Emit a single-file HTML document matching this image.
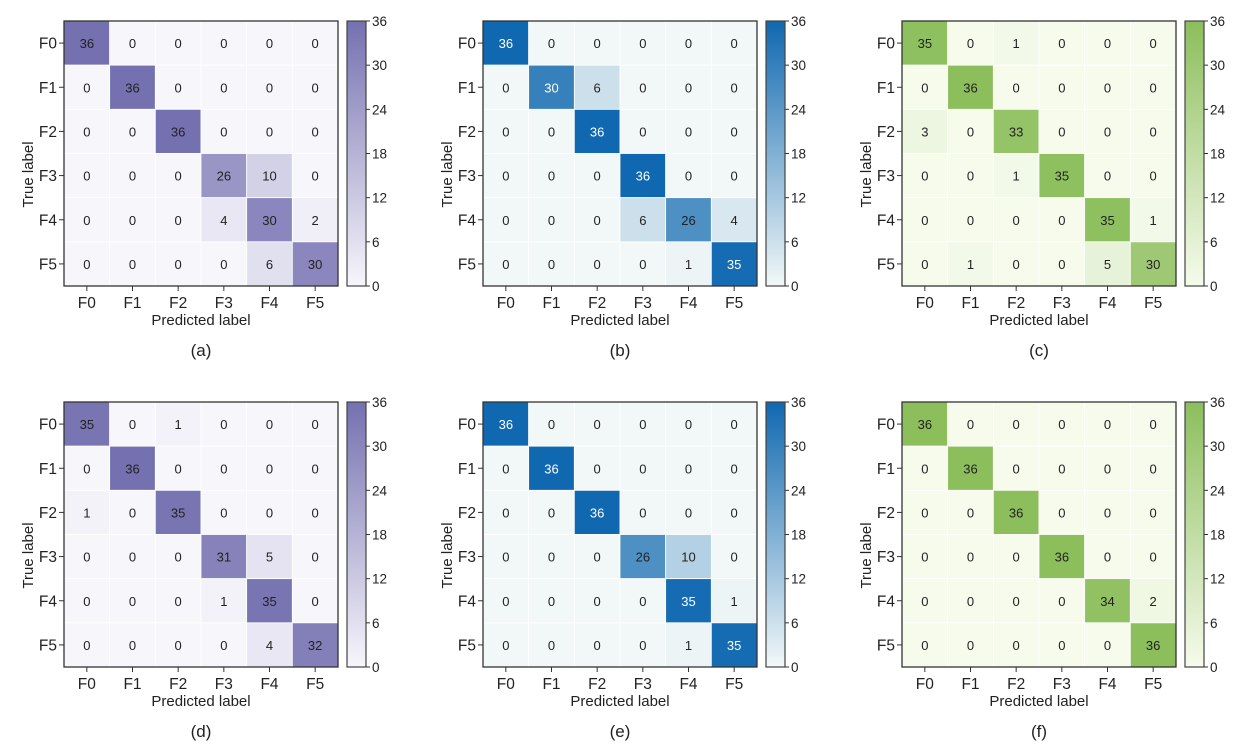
<!DOCTYPE html>
<html><head><meta charset="utf-8"><style>
html,body{margin:0;padding:0;background:#fff;}
svg text{font-family:"Liberation Sans",Arial,sans-serif;}
</style></head><body>
<svg id="s" width="1250" height="748" xmlns="http://www.w3.org/2000/svg"></svg>
<script>
const S=document.getElementById('s');
let h='<rect width="1250" height="748" fill="#fff"/>';
const cmaps={
 p:{lo:[247,246,251],hi:[117,112,176]},
 b:{lo:[242,248,248],hi:[16,104,176]},
 g:{lo:[246,251,236],hi:[140,190,92]}
};
function col(m,v){const c=cmaps[m],t=v/36;return 'rgb('+c.lo.map((l,i)=>Math.round(l+(c.hi[i]-l)*t)).join(',')+')';}
const data={
a:[[36,0,0,0,0,0],[0,36,0,0,0,0],[0,0,36,0,0,0],[0,0,0,26,10,0],[0,0,0,4,30,2],[0,0,0,0,6,30]],
b:[[36,0,0,0,0,0],[0,30,6,0,0,0],[0,0,36,0,0,0],[0,0,0,36,0,0],[0,0,0,6,26,4],[0,0,0,0,1,35]],
c:[[35,0,1,0,0,0],[0,36,0,0,0,0],[3,0,33,0,0,0],[0,0,1,35,0,0],[0,0,0,0,35,1],[0,1,0,0,5,30]],
d:[[35,0,1,0,0,0],[0,36,0,0,0,0],[1,0,35,0,0,0],[0,0,0,31,5,0],[0,0,0,1,35,0],[0,0,0,0,4,32]],
e:[[36,0,0,0,0,0],[0,36,0,0,0,0],[0,0,36,0,0,0],[0,0,0,26,10,0],[0,0,0,0,35,1],[0,0,0,0,1,35]],
f:[[36,0,0,0,0,0],[0,36,0,0,0,0],[0,0,36,0,0,0],[0,0,0,36,0,0],[0,0,0,0,34,2],[0,0,0,0,0,36]]
};
const panels=[['a',64,21,'p'],['b',483,21,'b'],['c',902,21,'g'],['d',64,402,'p'],['e',483,402,'b'],['f',902,402,'g']];
const W=274,H=265,cw=W/6,ch=H/6;
panels.forEach(([k,x,y,m],pi)=>{
 const M=data[k];
 h+=`<defs><linearGradient id="g${pi}" x1="0" y1="1" x2="0" y2="0"><stop offset="0" stop-color="${col(m,0)}"/><stop offset="1" stop-color="${col(m,36)}"/></linearGradient></defs>`;
 for(let r=0;r<6;r++)for(let c=0;c<6;c++){
  const v=M[r][c];
  h+=`<rect x="${x+c*cw}" y="${y+r*ch}" width="${cw}" height="${ch}" fill="${col(m,v)}" stroke="#fff" stroke-width="0.8"/>`;
  const white=(m==='b'&&v>=28);
  h+=`<text x="${x+c*cw+cw/2}" y="${y+r*ch+ch/2+5}" font-size="13" text-anchor="middle" fill="${white?'#fff':'#222'}">${v}</text>`;
 }
 h+=`<rect x="${x}" y="${y}" width="${W}" height="${H}" fill="none" stroke="#333" stroke-width="1.3"/>`;
 for(let i=0;i<6;i++){
  const cy=y+i*ch+ch/2, cx=x+i*cw+cw/2;
  h+=`<line x1="${x-5}" y1="${cy}" x2="${x}" y2="${cy}" stroke="#333"/>`;
  h+=`<text x="${x-7}" y="${cy+5.5}" font-size="15.5" text-anchor="end" fill="#222">F${i}</text>`;
  h+=`<line x1="${cx}" y1="${y+H}" x2="${cx}" y2="${y+H+5}" stroke="#333"/>`;
  h+=`<text x="${cx}" y="${y+H+22}" font-size="15.5" text-anchor="middle" fill="#222">F${i}</text>`;
 }
 h+=`<text x="${x+W/2}" y="${y+H+39}" font-size="15" text-anchor="middle" fill="#222">Predicted label</text>`;
 h+=`<text transform="translate(${x-31},${y+H/2+21}) rotate(-90)" font-size="15" text-anchor="middle" fill="#222">True label</text>`;
 const bx=x+283,bw=19;
 h+=`<rect x="${bx}" y="${y}" width="${bw}" height="${H}" fill="url(#g${pi})" stroke="#444" stroke-width="1.2"/>`;
 for(let t=0;t<=36;t+=6){
  const ty=y+H-t/36*H;
  h+=`<line x1="${bx+bw}" y1="${ty}" x2="${bx+bw+4}" y2="${ty}" stroke="#333"/>`;
  h+=`<text x="${bx+bw+6}" y="${ty+5}" font-size="13.5" fill="#222">${t}</text>`;
 }
 h+=`<text x="${x+W/2}" y="${y+H+70}" font-size="17" text-anchor="middle" fill="#222">(${k})</text>`;
});
S.innerHTML=h;
</script>
</body></html>
